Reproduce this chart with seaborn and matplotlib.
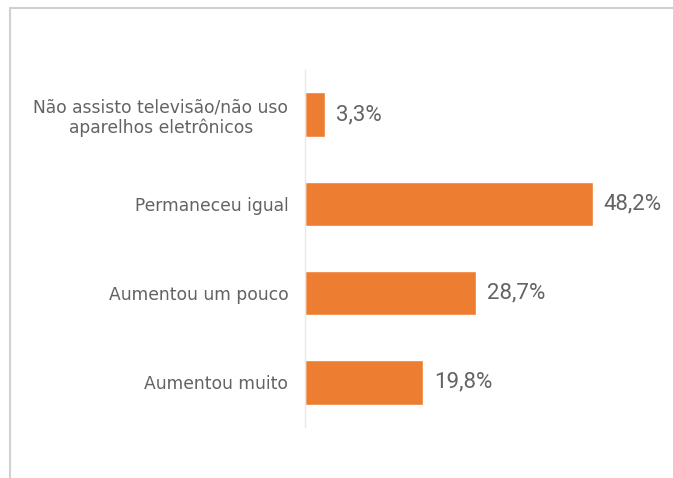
import matplotlib
matplotlib.use("Agg")
import matplotlib.pyplot as plt
from matplotlib.lines import Line2D
import seaborn as sns
import pandas as pd

# Survey answers and their shares (%)
categories = [
    "Não assisto televisão/não uso\naparelhos eletrônicos",
    "Permaneceu igual",
    "Aumentou um pouco",
    "Aumentou muito",
]
values = [3.3, 48.2, 28.7, 19.8]
value_labels = ["3,3%", "48,2%", "28,7%", "19,8%"]

df = pd.DataFrame({"categoria": categories, "valor": values})

sns.set_theme(style="white")
plt.rcParams["font.family"] = ["DejaVu Sans"]

BAR = "#ED7D31"
TEXT = "#636363"

fig = plt.figure(figsize=(6.73, 4.78), dpi=100)
ax = fig.add_axes([0.4532, 0.1067, 0.4435, 0.7469])

sns.barplot(data=df, x="valor", y="categoria", color=BAR, width=0.5,
            saturation=1, ax=ax, orient="h")

ax.set_xlim(0, 50)
ax.set_ylim(3.5, -0.5)
ax.set_xlabel("")
ax.set_ylabel("")
ax.set_xticks([])
ax.tick_params(axis="y", length=0, pad=12, labelsize=12.3, labelcolor=TEXT)
for lbl in ax.get_yticklabels():
    lbl.set_horizontalalignment("right")
    lbl.set_multialignment("center")
    lbl.set_linespacing(1.15)

for side in ("top", "right", "bottom"):
    ax.spines[side].set_visible(False)
ax.spines["left"].set_color("#E8E8E8")
ax.spines["left"].set_linewidth(1.0)

for patch, txt in zip(ax.patches, value_labels):
    ax.annotate(txt, (patch.get_width(), patch.get_y() + patch.get_height() / 2),
                xytext=(8, 0), textcoords="offset points",
                va="center", ha="left", fontsize=16, color=TEXT,
                family=["Roboto", "DejaVu Sans"])

# Outer frame lines (top and left)
fig.add_artist(Line2D([0.0149, 1.0], [0.983, 0.983], transform=fig.transFigure,
                      color="#D0D0D0", linewidth=1.5))
fig.add_artist(Line2D([0.0149, 0.0149], [0.0, 0.983], transform=fig.transFigure,
                      color="#D0D0D0", linewidth=1.5))

fig.savefig("out.png", dpi=100, facecolor="white")
